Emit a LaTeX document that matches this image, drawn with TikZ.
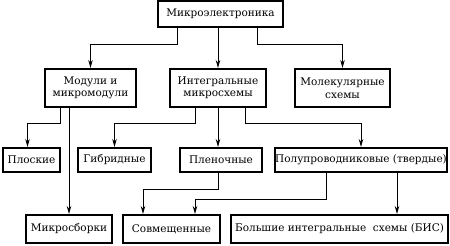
\documentclass[tikz,border=0pt]{standalone}
\usepackage{fontspec}
\setmainfont{DejaVu Serif}
\usetikzlibrary{arrows.meta,calc}
\begin{document}
\begin{tikzpicture}[x=1pt,y=-1pt,
  box/.style={draw,line width=2pt,rectangle,inner sep=0pt,align=center,font=\rmfamily\fontsize{10.5}{12.5}\selectfont},
  arr/.style={line width=0.9pt,-{Stealth[length=8pt,width=4.5pt]}}]
\useasboundingbox (0,0) rectangle (450,246);
\node[box,minimum width=125pt,minimum height=26pt] (top) at (220.5,14) {Микроэлектроника};
\node[box,minimum width=91pt,minimum height=38pt] (m1) at (90.5,88) {Модули и\\микромодули};
\node[box,minimum width=96pt,minimum height=38pt] (m2) at (218,88) {Интегральные\\микросхемы};
\node[box,minimum width=95pt,minimum height=38pt] (m3) at (342.5,88) {Молекулярные\\схемы};
\node[box,minimum width=57pt,minimum height=24pt] (pl) at (31.5,160) {Плоские};
\node[box,minimum width=73pt,minimum height=24pt] (gib) at (114.5,160) {Гибридные};
\node[box,minimum width=82pt,minimum height=24pt] (plen) at (221,160) {Пленочные};
\node[box,minimum width=170pt,minimum height=24pt] (pol) at (361,160) {Полупроводниковые (твердые)};
\node[box,minimum width=86pt,minimum height=28pt] (ms) at (69,229) {Микросборки};
\node[box,minimum width=97pt,minimum height=28pt] (sov) at (171.5,229) {Совмещенные};
\node[box,minimum width=217pt,minimum height=28pt] (big) at (339.5,229) {Большие интегральные\ \ схемы (БИС)};
% level 1 -> 2
\draw[arr] ([xshift=-43.5pt]top.south) -- ++(0,16) -| (m1.north);
\draw[arr] (m2.north |- top.south) -- (m2.north);
\draw[arr] ([xshift=36.5pt]top.south) -- ++(0,16) -| (m3.north);
% from m1
\draw[arr] ([xshift=-30.5pt]m1.south) -- ++(0,15) -| ([xshift=-4pt]pl.north);
\draw[arr] (ms.north |- m1.south) -- (ms.north);
% from m2
\draw[arr] ([xshift=-23pt]m2.south) -- ++(0,15) -| (gib.north);
\draw[arr] (m2.south) -- (m2.south |- plen.north);
\draw[arr] ([xshift=27pt]m2.south) -- ++(0,15) -| (pol.north);
% to level 4
\draw[arr] ([xshift=-3pt]plen.south) -- ++(0,16) -| ([xshift=-28.5pt]sov.north);
\draw[arr] ([xshift=-35pt]pol.south) -- ++(0,26) -| ([xshift=23.5pt]sov.north);
\draw[arr] ([xshift=36pt]pol.south) -- ([xshift=36pt]pol.south |- big.north);
\end{tikzpicture}
\end{document}
